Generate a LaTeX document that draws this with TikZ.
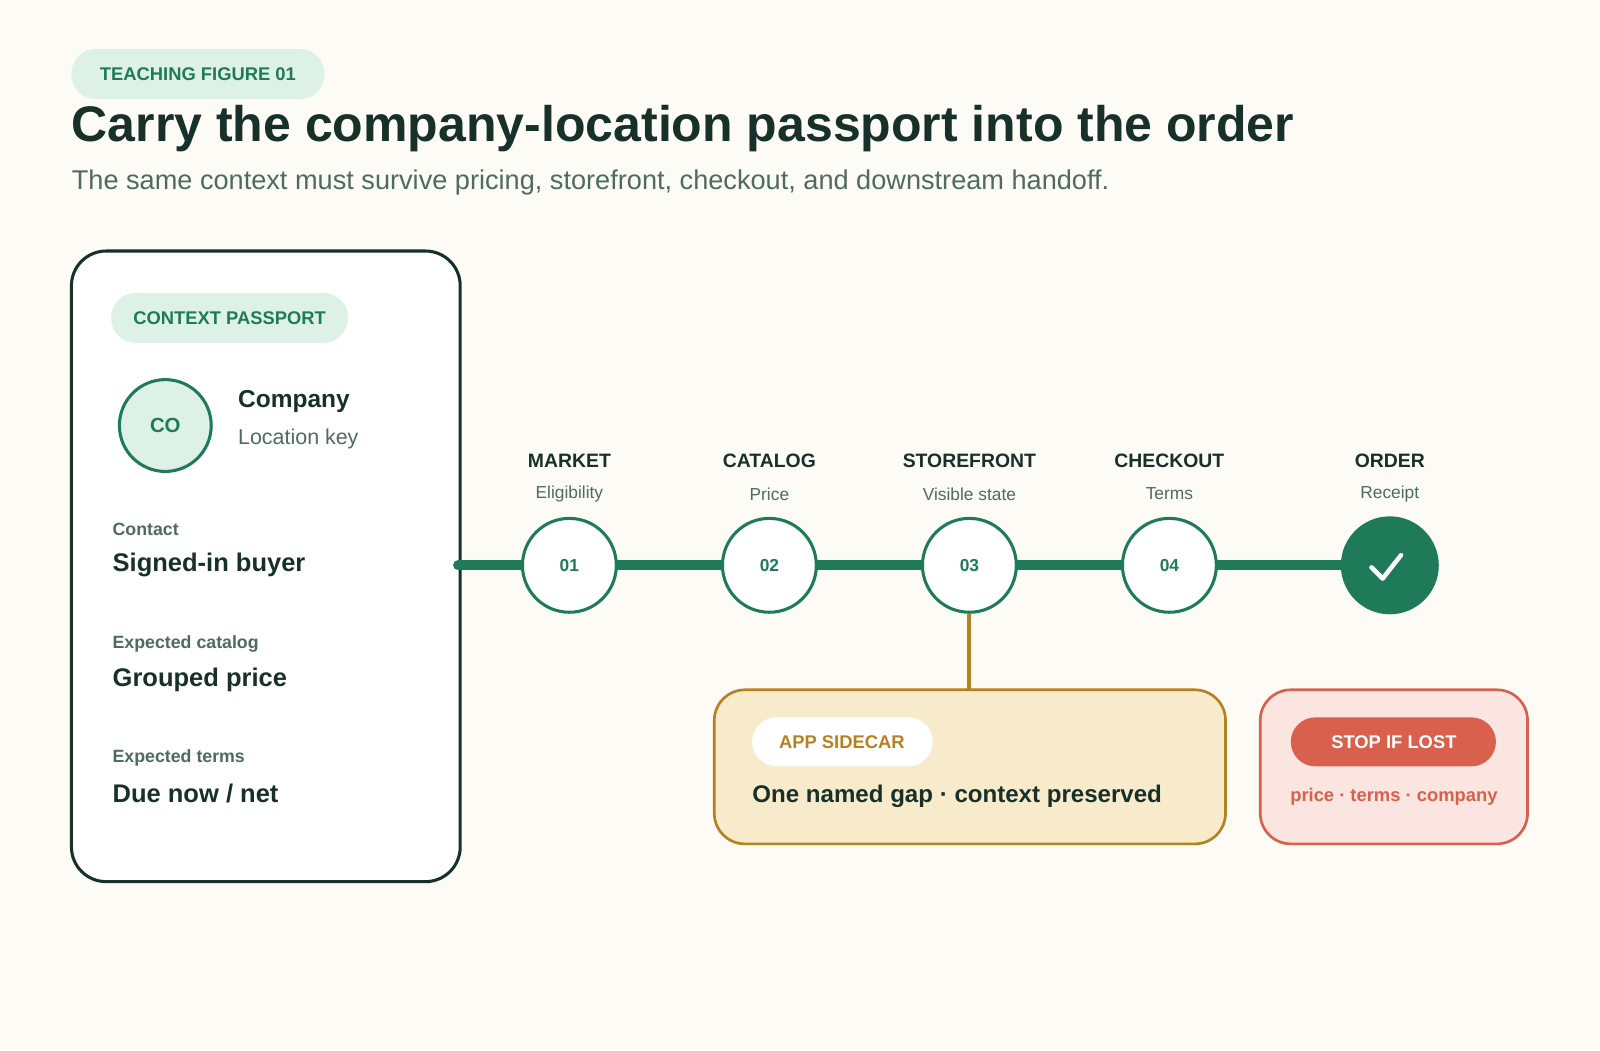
\documentclass[tikz,border=0pt]{standalone}
\usepackage{fontspec}
\setmainfont{Liberation Sans}
\begin{document}
\definecolor{bg}{HTML}{FDFBF6}
\definecolor{grn}{HTML}{1F7A5A}
\definecolor{dk}{HTML}{18302A}
\definecolor{lgrn}{HTML}{DDF1E6}
\definecolor{gry}{HTML}{4F6A60}
\definecolor{org}{HTML}{B8801F}
\definecolor{lorg}{HTML}{F8EBCC}
\definecolor{red}{HTML}{D9604C}
\definecolor{lred}{HTML}{FBE5E0}
\begin{tikzpicture}[x=0.5pt,y=-0.5pt,
  stepnode/.style={circle,draw=grn,line width=1.5pt,fill=white,minimum size=46pt,inner sep=0pt,text=grn,font=\bfseries\fontsize{8.5}{10}\selectfont},
  head/.style={text=dk,font=\bfseries\fontsize{9.5}{11}\selectfont},
  sub/.style={text=gry,font=\fontsize{8.5}{10}\selectfont},
  flab/.style={anchor=west,text=gry,font=\bfseries\fontsize{8.7}{10}\selectfont},
  fval/.style={anchor=west,text=dk,font=\bfseries\fontsize{12.5}{14}\selectfont}]
\fill[bg] (0,0) rectangle (1568,1029);
\useasboundingbox (0,0) rectangle (1568,1029);
\fill[lgrn,rounded corners=12pt] (70,48) rectangle (318,97);
\node[text=grn,font=\bfseries\fontsize{9}{10}\selectfont] (tag) at (194,73) {TEACHING FIGURE 01};
\node[anchor=base west,text=dk,inner sep=0pt,font=\bfseries\fontsize{24.5}{27}\selectfont] (title) at (70,139) {Carry the company-location passport into the order};
\node[anchor=base west,text=gry,inner sep=0pt,font=\fontsize{13.3}{15}\selectfont] (subt) at (70,186) {The same context must survive pricing, storefront, checkout, and downstream handoff.};
% card
\draw[dk,line width=1.5pt,fill=white,rounded corners=17pt] (70,246) rectangle (451,864);
\fill[lgrn,rounded corners=12pt] (109,287) rectangle (341,336);
\node[text=grn,font=\bfseries\fontsize{9}{10}\selectfont] (cp) at (225,312) {CONTEXT PASSPORT};
\node[circle,draw=grn,line width=1.5pt,fill=lgrn,minimum size=45pt,inner sep=0pt,text=grn,font=\bfseries\fontsize{10}{12}\selectfont] (co) at (162,417) {CO};
\node[anchor=west,text=dk,font=\bfseries\fontsize{12}{14}\selectfont,inner sep=0pt] (comp) at (233,393) {Company};
\node[anchor=west,text=gry,font=\fontsize{10.5}{12}\selectfont,inner sep=0pt] (lk) at (233,430) {Location key};
\node[flab,inner sep=0pt] (l1) at (110,519) {Contact};
\node[fval,inner sep=0pt] (v1) at (110,554) {Signed-in buyer};
\node[flab,inner sep=0pt] (l2) at (110,631) {Expected catalog};
\node[fval,inner sep=0pt] (v2) at (110,666) {Grouped price};
\node[flab,inner sep=0pt] (l3) at (110,743) {Expected terms};
\node[fval,inner sep=0pt] (v3) at (110,778) {Due now / net};
% line
\coordinate (ls) at (449,554);
\coordinate (le) at (1362,554);
\draw[grn,line width=5pt,line cap=round] (ls) -- (le);
% steps
\node[stepnode] (s1) at (558,554) {01};
\node[stepnode] (s2) at (754,554) {02};
\node[stepnode] (s3) at (950,554) {03};
\node[stepnode] (s4) at (1146,554) {04};
\node[circle,fill=grn,minimum size=48pt,inner sep=0pt] (s5) at (1362,554) {};
\draw[white,line width=2.2pt,line cap=round,line join=round] (1344,556) -- (1355,567) -- (1373,544);
\foreach \n/\x/\a/\b in {1/558/MARKET/Eligibility,2/754/CATALOG/Price,3/950/STOREFRONT/Visible state,4/1146/CHECKOUT/Terms,5/1362/ORDER/Receipt}{
  \node[head] (h\n) at (\x,452) {\a};
  \node[sub] (u\n) at (\x,484) {\b};
}
% sidecar
\draw[org,line width=1.3pt,fill=lorg,rounded corners=15pt] (700,676) rectangle (1201,827);
\coordinate (sc) at (950,677);
\draw[org,line width=2pt] (s3.south) -- (sc);
\fill[white,rounded corners=12pt] (737,703) rectangle (914,751);
\node[text=org,font=\bfseries\fontsize{9}{10}\selectfont] (as) at (825,727) {APP SIDECAR};
\node[anchor=west,inner sep=0pt,text=dk,font=\bfseries\fontsize{11.8}{13}\selectfont] (gap) at (737,780) {One named gap · context preserved};
% stop
\draw[red,line width=1.3pt,fill=lred,rounded corners=15pt] (1235,676) rectangle (1497,827);
\fill[red,rounded corners=12pt] (1265,703) rectangle (1466,751);
\node[text=white,font=\bfseries\fontsize{9}{10}\selectfont] (st) at (1366,727) {STOP IF LOST};
\node[text=red,font=\bfseries\fontsize{9}{10}\selectfont] (ptc) at (1366,781) {price · terms · company};
\end{tikzpicture}
\end{document}
